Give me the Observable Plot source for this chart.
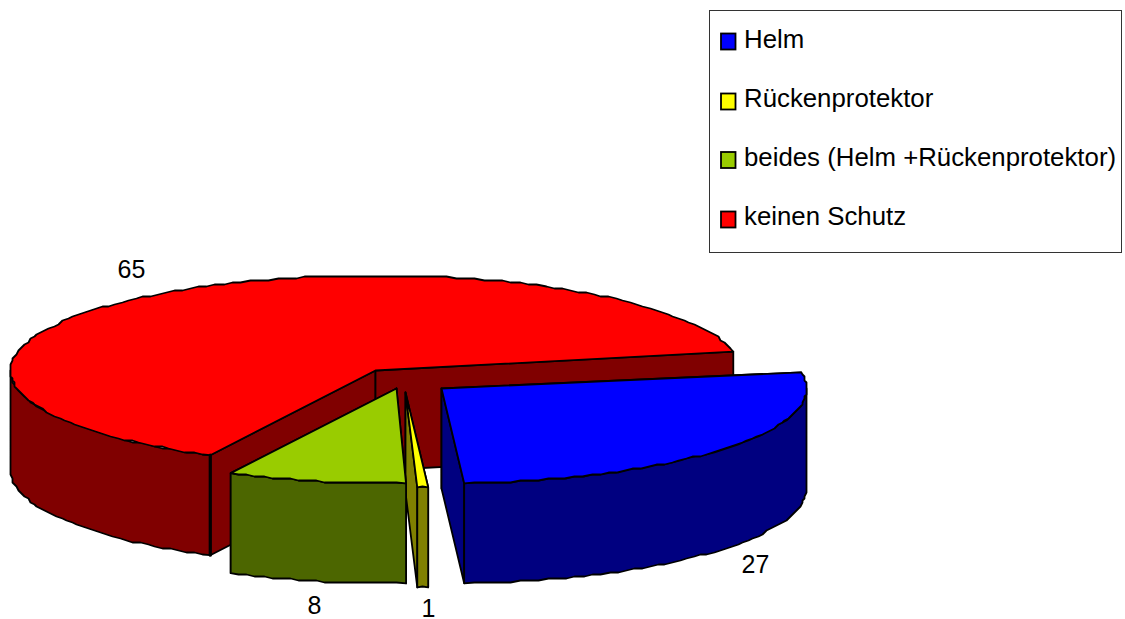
<!DOCTYPE html>
<html>
<head>
<meta charset="utf-8">
<style>html,body{margin:0;padding:0;background:#fff;overflow:hidden}svg{display:block}</style>
<script src="https://cdn.jsdelivr.net/npm/d3@7"></script>
<script src="https://cdn.jsdelivr.net/npm/@observablehq/plot@0.6"></script>
</head>
<body>
<div id="chart"></div>
<script>
// Data
const categories = ["Helm", "Rückenprotektor", "beides (Helm +Rückenprotektor)", "keinen Schutz"];
const values = [27, 1, 8, 65];
const topColors = ["#0000ff", "#ffff00", "#99cc00", "#ff0000"];
const wallColors = ["#000080", "#808000", "#4c6600", "#800000"];

// Drawing layout (per-slice, same order as the data)
const W = 1125, H = 619;
const centre = {x: 375, y: 370}, rx = 365, ry = 95, depth = 100;
const firstAngle = -10.9;
const explodeX = [66, 30, 21, 0];
const explodeY = [18, 22, 18, 0];
const angleNudge = [1.1, 1.1, -0.4, -0.5];   // the original's projection is not quite true to the shares
const sweepNudge = [0, 0.48, 0, 0];
const labelX = [755, 428, 314, 131];
const labelY = [564, 608, 605, 269];
const drawOrder = [3, 1, 2, 0];
const jag = 2;

const total = d3.sum(values);
const rad = (d) => d * Math.PI / 180;
let cumulative = firstAngle;
const slices = values.map((v, i) => {
  const sweep = v / total * 360;
  const a0 = cumulative + angleNudge[i];
  const a1 = a0 + sweep * (sweepNudge[i] || 1);
  cumulative += sweep;
  return {i, a0, a1, cx: centre.x + explodeX[i], cy: centre.y + explodeY[i]};
});

function arc(s, a0, a1, dy = 0) {
  const n = Math.max(2, Math.ceil(Math.abs(a1 - a0) / 1.5));
  return d3.range(n + 1).map((k) => {
    const a = a0 + (a1 - a0) * k / n;
    let x = s.cx + rx * Math.cos(rad(a));
    let y = s.cy + ry * Math.sin(rad(a));
    if (k > 0 && k < n) { x = Math.round(x / jag) * jag; y = Math.round(y / jag) * jag; }
    return [x, y + dy];
  });
}

const polys = [];
function addPoly(pts, fill) {
  const id = polys.length;
  polys.push(...[...pts, pts[0]].map(([x, y]) => ({id, x, y, fill})));
}
function addFace(s, a, fill) {
  const c = [s.cx, s.cy], p = arc(s, a, a)[0];
  addPoly([c, p, [p[0], p[1] + depth], [c[0], c[1] + depth]], fill);
}
for (const i of drawOrder) {
  const s = slices[i], wall = wallColors[i];
  // cut faces first
  addFace(s, s.a0, wall);
  addFace(s, s.a1, wall);
  // visible outer wall: screen-front half of the ellipse (0..180 degrees)
  const from = Math.max(s.a0, 0), to = Math.min(s.a1, 180);
  if (to > from) {
    const top = arc(s, from, to), bottom = arc(s, to, from, depth);
    addPoly([...top, ...bottom], wall);
  }
  // top
  addPoly([[s.cx, s.cy], ...arc(s, s.a0, s.a1)], topColors[i]);
}

// The heavier vertical edge at the front corner of the largest slice
const largest = slices[d3.maxIndex(values)];
const corner = arc(largest, largest.a0, largest.a0)[0];
const cornerEdge = [{x: corner[0], y: corner[1]}, {x: corner[0], y: corner[1] + depth}];

// Legend
const legendBox = {x1: 709.5, x2: 1121.5, y1: 10.5, y2: 252.5};
const legendY = [41.5, 101.5, 160, 219.5];
const textY = [39, 98, 157, 216];
const legend = categories.map((name, i) => ({
  name, x1: 721, x2: 735.5, y1: legendY[i] - 8, y2: legendY[i] + 8, ty: textY[i], fill: topColors[i]
}));
const labels = values.map((v, i) => ({v: String(v), x: labelX[i], y: labelY[i]}));

const font = "'Liberation Sans', Arial, sans-serif";
const chart = Plot.plot({
  width: W, height: H, margin: 0,
  style: {background: "#fff", fontFamily: font},
  x: {type: "linear", domain: [0, W], range: [0, W], axis: null},
  y: {type: "linear", domain: [0, H], range: [0, H], axis: null},
  color: {type: "identity"},
  marks: [
    Plot.line(polys, {x: "x", y: "y", z: "id", fill: "fill", stroke: "#000", strokeWidth: 1.8, strokeLinejoin: "round", curve: "linear"}),
    Plot.line(cornerEdge, {x: "x", y: "y", stroke: "#000", strokeWidth: 3.2}),
    Plot.text(labels, {x: "x", y: "y", text: "v", fontSize: 25, fill: "#000", textAnchor: "middle", lineAnchor: "middle"}),
    Plot.rect([legendBox], {x1: "x1", x2: "x2", y1: "y1", y2: "y2", fill: "#fff", stroke: "#333", strokeWidth: 1}),
    Plot.rect(legend, {x1: "x1", x2: "x2", y1: "y1", y2: "y2", fill: "fill", stroke: "#000", strokeWidth: 1.8}),
    Plot.text(legend, {x: 743.5, y: "ty", text: "name", fontSize: 25.8, fill: "#000", textAnchor: "start", lineAnchor: "middle"})
  ]
});
document.getElementById("chart").append(chart);
</script>
</body>
</html>
